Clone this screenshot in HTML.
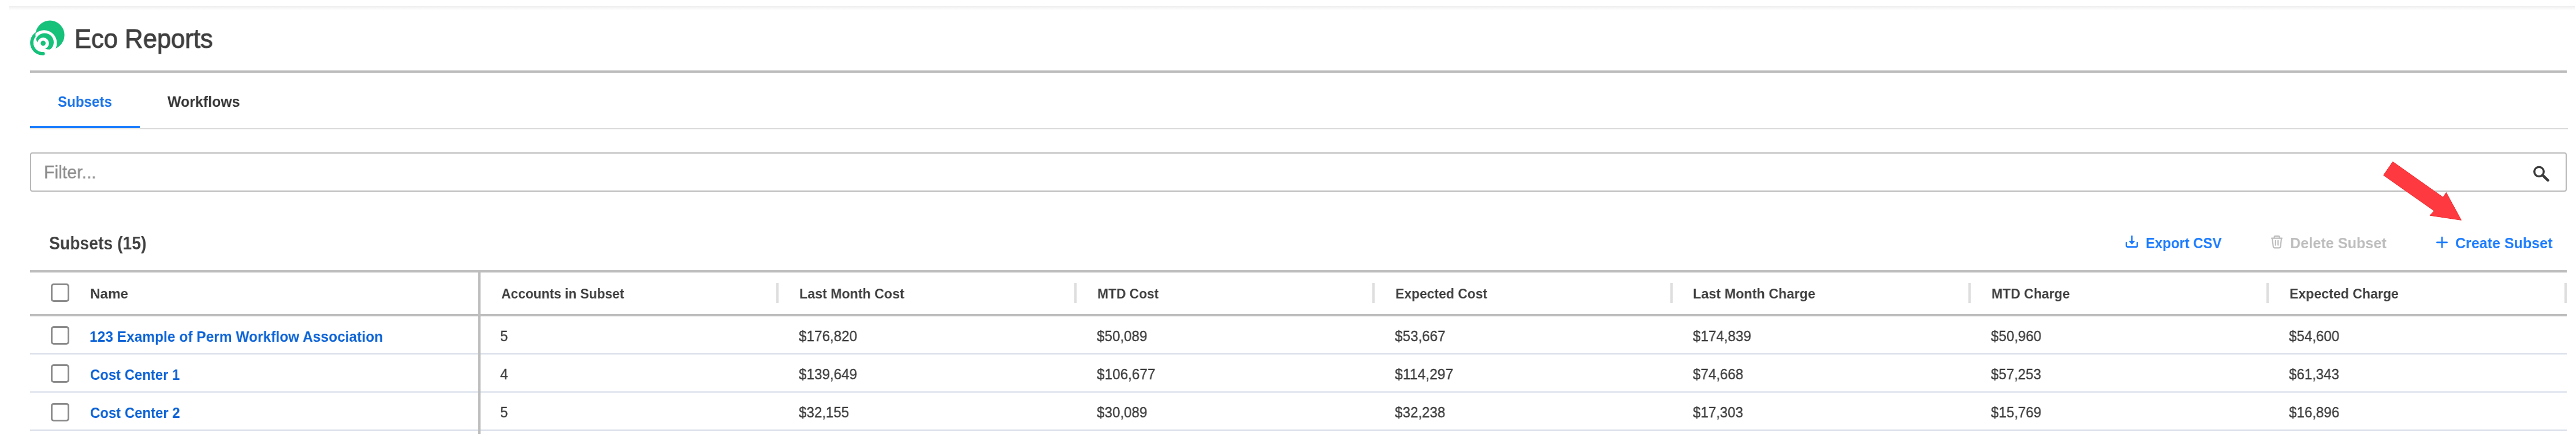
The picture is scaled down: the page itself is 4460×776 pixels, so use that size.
<!DOCTYPE html>
<html><head><meta charset="utf-8"><title>Eco Reports</title>
<style>
html,body{margin:0;padding:0;background:#fff;}
body{width:4460px;height:776px;position:relative;overflow:hidden;font-family:"Liberation Sans",sans-serif;}
.r{position:absolute;}
.t{position:absolute;white-space:nowrap;line-height:1;transform-origin:0 0;display:block;will-change:transform;}
svg{position:absolute;left:0;top:0;}
</style></head>
<body>
<div class="r" style="left:16.00px;top:10.00px;width:4442.00px;height:8.00px;background:#fff;background:linear-gradient(#ebebeb,#f6f6f6 45%,#ffffff)"></div>
<div class="r" style="left:52.00px;top:122.00px;width:4392.00px;height:3.90px;background:#bcbcbc;"></div>
<div class="r" style="left:242.00px;top:222.00px;width:4204.00px;height:1.70px;background:#d9d9d9;"></div>
<div class="r" style="left:52.00px;top:222.00px;width:190.00px;height:1.00px;background:#eee7df;"></div>
<div class="r" style="left:52.00px;top:223.00px;width:190.00px;height:1.00px;background:#dcdcdc;"></div>
<div class="r" style="left:52.00px;top:218.00px;width:190.00px;height:4.00px;background:#1a7dff;"></div>
<div class="r" style="left:52px;top:264px;width:4392px;height:68px;box-sizing:border-box;border:2px solid #b8b8b8;border-radius:4px;background:#fff"></div>
<div class="r" style="left:52.00px;top:468.00px;width:4392.00px;height:3.80px;background:#bdbdbd;"></div>
<div class="r" style="left:52.00px;top:544.00px;width:4392.00px;height:3.80px;background:#bdbdbd;"></div>
<div class="r" style="left:52.00px;top:612.00px;width:4392.00px;height:1.95px;background:#d5dbe7;"></div>
<div class="r" style="left:52.00px;top:678.00px;width:4392.00px;height:1.95px;background:#d5dbe7;"></div>
<div class="r" style="left:52.00px;top:744.00px;width:4392.00px;height:1.95px;background:#d5dbe7;"></div>
<div class="r" style="left:828.20px;top:468.00px;width:3.70px;height:283.70px;background:#bdbdbd;"></div>
<div class="r" style="left:1344.30px;top:490.00px;width:3.50px;height:35.00px;background:#dedede;"></div>
<div class="r" style="left:1860.30px;top:490.00px;width:3.50px;height:35.00px;background:#dedede;"></div>
<div class="r" style="left:2376.30px;top:490.00px;width:3.50px;height:35.00px;background:#dedede;"></div>
<div class="r" style="left:2892.30px;top:490.00px;width:3.50px;height:35.00px;background:#dedede;"></div>
<div class="r" style="left:3408.30px;top:490.00px;width:3.50px;height:35.00px;background:#dedede;"></div>
<div class="r" style="left:3924.30px;top:490.00px;width:3.50px;height:35.00px;background:#dedede;"></div>
<div class="r" style="left:4440.30px;top:490.00px;width:3.50px;height:35.00px;background:#dedede;"></div>
<div class="r" style="left:88px;top:491px;width:32px;height:32px;box-sizing:border-box;border:3px solid #8a8a8a;border-radius:5px;background:#fff"></div>
<div class="r" style="left:88px;top:565px;width:32px;height:32px;box-sizing:border-box;border:3px solid #8a8a8a;border-radius:5px;background:#fff"></div>
<div class="r" style="left:88px;top:631px;width:32px;height:32px;box-sizing:border-box;border:3px solid #8a8a8a;border-radius:5px;background:#fff"></div>
<div class="r" style="left:88px;top:697.5px;width:32px;height:32px;box-sizing:border-box;border:3px solid #8a8a8a;border-radius:5px;background:#fff"></div>
<svg width="4460" height="776" viewBox="0 0 4460 776">
<defs><clipPath id="bc"><circle cx="86.5" cy="60.7" r="25.1"/></clipPath></defs>
<!-- logo -->
<defs><mask id="lm" maskUnits="userSpaceOnUse" x="40" y="30" width="80" height="70">
<rect x="40" y="30" width="80" height="70" fill="#000"/>
<circle cx="86.5" cy="60.7" r="25.1" fill="#fff"/>
<circle cx="76.3" cy="74.5" r="22.2" fill="#000"/>
<circle cx="77.2" cy="73.2" r="15.8" fill="#fff" clip-path="url(#bc)"/>
<circle cx="74.8" cy="75.0" r="10.0" fill="#000"/>
<circle cx="74.7" cy="74.8" r="4.35" fill="#fff"/>
</mask></defs>
<g>
<path d="M 70.62 55.39 L 69.33 55.66 L 68.06 56.03 L 66.82 56.48 L 65.61 57.01 L 64.45 57.63 L 63.33 58.33 L 62.26 59.11 L 61.25 59.95 L 60.30 60.87 L 59.42 61.85 L 58.61 62.89 L 57.87 63.98 L 57.21 65.13 L 56.63 66.31 L 56.14 67.54 L 55.73 68.79 L 55.41 70.07 L 55.18 71.37 L 55.05 72.68 L 55.00 74.00 L 55.05 75.32 L 55.18 76.63 L 55.41 77.93 L 55.73 79.21 L 56.14 80.46 L 56.63 81.69 L 57.21 82.87 L 57.87 84.02 L 58.61 85.11 L 59.42 86.15 L 60.30 87.13 L 61.25 88.05 L 62.26 88.89 L 63.33 89.67 L 64.45 90.37 L 65.61 90.99 L 66.82 91.52 L 68.06 91.97 L 69.33 92.34 L 70.62 92.61 L 71.92 92.80 L 73.24 92.89 L 74.56 92.89 L 74.89 92.87" fill="none" stroke="#16c17a" stroke-width="5.6" stroke-linecap="round" stroke-linejoin="round"/>
<circle cx="86.5" cy="60.7" r="25.1" fill="#fff"/>
<rect x="40" y="30" width="80" height="70" fill="#16c17a" mask="url(#lm)"/>
</g>
<!-- search -->
<g fill="none" stroke="#3a3a3a">
<circle cx="4396" cy="297.4" r="8.15" stroke-width="3.5"/>
<path d="M 4402.2 303.4 L 4411.4 312.4" stroke-width="4.6" stroke-linecap="round"/>
</g>
<!-- red arrow -->
<polygon points="4142.8,280.2 4126.7,303.5 4214.4,365.2 4207.1,373.2 4261.3,381.3 4235.3,333.5 4229.9,341.8" fill="#fe3a40" stroke="#ee2a30" stroke-width="1" stroke-linejoin="miter"/>
<!-- download icon -->
<g fill="none" stroke="#1a7bff" stroke-width="2.6">
<path d="M 3681.7 420.3 V 425.5 Q 3681.7 427.6 3683.8 427.6 H 3698.4 Q 3700.5 427.6 3700.5 425.5 V 420.3" stroke-linecap="round"/>
<path d="M 3691.1 408 V 418"/>
</g>
<polygon points="3685.3,417 3696.9,417 3691.1,423.8" fill="#1a7bff"/>
<!-- trash icon -->
<g fill="none" stroke="#bdbdbd" stroke-width="2.2" stroke-linecap="round" stroke-linejoin="round">
<path d="M 3933 412.6 H 3951"/>
<path d="M 3937.6 412.2 V 410.6 Q 3937.6 408.8 3939.4 408.8 H 3944.8 Q 3946.6 408.8 3946.6 410.6 V 412.2"/>
<path d="M 3934.2 413 L 3935.8 427 Q 3936 429.4 3938.4 429.4 H 3945.8 Q 3948.2 429.4 3948.4 427 L 3950 413"/>
<path d="M 3939.8 416.8 V 424.6 M 3944.2 416.8 V 424.6"/>
</g>
<!-- plus icon -->
<path d="M 4219.4 419.8 H 4236.6 M 4228 411.2 V 428.4" fill="none" stroke="#1a7bff" stroke-width="2.8" stroke-linecap="round"/>
</svg>

<span class="t" style="left:128.79px;top:45.00px;font-size:45.51px;font-weight:normal;color:#3f3f3f;transform:scaleX(0.9573);-webkit-text-stroke:1.00px #3f3f3f">Eco Reports</span>
<span class="t" style="left:100.12px;top:163.00px;font-size:26.01px;font-weight:bold;color:#1a73e8;transform:scaleX(0.9277)">Subsets</span>
<span class="t" style="left:289.70px;top:163.00px;font-size:26.01px;font-weight:bold;color:#333333;transform:scaleX(0.9579)">Workflows</span>
<span class="t" style="left:76.15px;top:283.00px;font-size:30.43px;font-weight:normal;color:#8c8c8c;transform:scaleX(0.9937);-webkit-text-stroke:0.35px #8c8c8c">Filter...</span>
<span class="t" style="left:84.53px;top:407.00px;font-size:30.90px;font-weight:bold;color:#404040;transform:scaleX(0.9169)">Subsets (15)</span>
<span class="t" style="left:3714.77px;top:408.00px;font-size:26.01px;font-weight:bold;color:#1a7bff;transform:scaleX(0.9189)">Export CSV</span>
<span class="t" style="left:3965.19px;top:408.00px;font-size:26.01px;font-weight:bold;color:#bdbdbd;transform:scaleX(0.9704)">Delete Subset</span>
<span class="t" style="left:4251.00px;top:408.00px;font-size:26.01px;font-weight:bold;color:#1a7bff;transform:scaleX(0.9628)">Create Subset</span>
<span class="t" style="left:156.35px;top:497.00px;font-size:24.38px;font-weight:bold;color:#3d3d3d;transform:scaleX(0.9937)">Name</span>
<span class="t" style="left:867.74px;top:497.00px;font-size:24.38px;font-weight:bold;color:#3d3d3d;transform:scaleX(0.9338)">Accounts in Subset</span>
<span class="t" style="left:1383.81px;top:497.00px;font-size:24.38px;font-weight:bold;color:#3d3d3d;transform:scaleX(0.9508)">Last Month Cost</span>
<span class="t" style="left:1899.64px;top:497.00px;font-size:24.38px;font-weight:bold;color:#3d3d3d;transform:scaleX(0.9329)">MTD Cost</span>
<span class="t" style="left:2415.53px;top:497.00px;font-size:24.38px;font-weight:bold;color:#3d3d3d;transform:scaleX(0.9385)">Expected Cost</span>
<span class="t" style="left:2931.40px;top:497.00px;font-size:24.38px;font-weight:bold;color:#3d3d3d;transform:scaleX(0.9603)">Last Month Charge</span>
<span class="t" style="left:3447.72px;top:497.00px;font-size:24.38px;font-weight:bold;color:#3d3d3d;transform:scaleX(0.9450)">MTD Charge</span>
<span class="t" style="left:3964.01px;top:497.00px;font-size:24.38px;font-weight:bold;color:#3d3d3d;transform:scaleX(0.9484)">Expected Charge</span>
<span class="t" style="left:155.33px;top:570.00px;font-size:26.01px;font-weight:bold;color:#0b62d6;transform:scaleX(0.9426)">123 Example of Perm Workflow Association</span>
<span class="t" style="left:865.50px;top:569.00px;font-size:26.01px;font-weight:normal;color:#3d3d3d;transform:scaleX(0.9221);-webkit-text-stroke:0.35px #3d3d3d">5</span>
<span class="t" style="left:1383.02px;top:569.00px;font-size:26.01px;font-weight:normal;color:#3d3d3d;transform:scaleX(0.9311);-webkit-text-stroke:0.35px #3d3d3d">$176,820</span>
<span class="t" style="left:1899.32px;top:569.00px;font-size:26.01px;font-weight:normal;color:#3d3d3d;transform:scaleX(0.9284);-webkit-text-stroke:0.35px #3d3d3d">$50,089</span>
<span class="t" style="left:2415.12px;top:569.00px;font-size:26.01px;font-weight:normal;color:#3d3d3d;transform:scaleX(0.9314);-webkit-text-stroke:0.35px #3d3d3d">$53,667</span>
<span class="t" style="left:2930.92px;top:569.00px;font-size:26.01px;font-weight:normal;color:#3d3d3d;transform:scaleX(0.9307);-webkit-text-stroke:0.35px #3d3d3d">$174,839</span>
<span class="t" style="left:3446.92px;top:569.00px;font-size:26.01px;font-weight:normal;color:#3d3d3d;transform:scaleX(0.9288);-webkit-text-stroke:0.35px #3d3d3d">$50,960</span>
<span class="t" style="left:3962.92px;top:569.00px;font-size:26.01px;font-weight:normal;color:#3d3d3d;transform:scaleX(0.9288);-webkit-text-stroke:0.35px #3d3d3d">$54,600</span>
<span class="t" style="left:155.84px;top:636.00px;font-size:26.01px;font-weight:bold;color:#0b62d6;transform:scaleX(0.9190)">Cost Center 1</span>
<span class="t" style="left:865.98px;top:635.00px;font-size:26.01px;font-weight:normal;color:#3d3d3d;transform:scaleX(0.9299);-webkit-text-stroke:0.35px #3d3d3d">4</span>
<span class="t" style="left:1383.02px;top:635.00px;font-size:26.01px;font-weight:normal;color:#3d3d3d;transform:scaleX(0.9307);-webkit-text-stroke:0.35px #3d3d3d">$139,649</span>
<span class="t" style="left:1899.32px;top:635.00px;font-size:26.01px;font-weight:normal;color:#3d3d3d;transform:scaleX(0.9333);-webkit-text-stroke:0.35px #3d3d3d">$106,677</span>
<span class="t" style="left:2415.12px;top:635.00px;font-size:26.01px;font-weight:normal;color:#3d3d3d;transform:scaleX(0.9504);-webkit-text-stroke:0.35px #3d3d3d">$114,297</span>
<span class="t" style="left:2930.92px;top:635.00px;font-size:26.01px;font-weight:normal;color:#3d3d3d;transform:scaleX(0.9288);-webkit-text-stroke:0.35px #3d3d3d">$74,668</span>
<span class="t" style="left:3446.92px;top:635.00px;font-size:26.01px;font-weight:normal;color:#3d3d3d;transform:scaleX(0.9258);-webkit-text-stroke:0.35px #3d3d3d">$57,253</span>
<span class="t" style="left:3962.92px;top:635.00px;font-size:26.01px;font-weight:normal;color:#3d3d3d;transform:scaleX(0.9258);-webkit-text-stroke:0.35px #3d3d3d">$61,343</span>
<span class="t" style="left:155.84px;top:702.00px;font-size:26.01px;font-weight:bold;color:#0b62d6;transform:scaleX(0.9209)">Cost Center 2</span>
<span class="t" style="left:865.50px;top:701.00px;font-size:26.01px;font-weight:normal;color:#3d3d3d;transform:scaleX(0.9221);-webkit-text-stroke:0.35px #3d3d3d">5</span>
<span class="t" style="left:1383.02px;top:701.00px;font-size:26.01px;font-weight:normal;color:#3d3d3d;transform:scaleX(0.9258);-webkit-text-stroke:0.35px #3d3d3d">$32,155</span>
<span class="t" style="left:1899.32px;top:701.00px;font-size:26.01px;font-weight:normal;color:#3d3d3d;transform:scaleX(0.9284);-webkit-text-stroke:0.35px #3d3d3d">$30,089</span>
<span class="t" style="left:2415.12px;top:701.00px;font-size:26.01px;font-weight:normal;color:#3d3d3d;transform:scaleX(0.9288);-webkit-text-stroke:0.35px #3d3d3d">$32,238</span>
<span class="t" style="left:2930.92px;top:701.00px;font-size:26.01px;font-weight:normal;color:#3d3d3d;transform:scaleX(0.9258);-webkit-text-stroke:0.35px #3d3d3d">$17,303</span>
<span class="t" style="left:3446.92px;top:701.00px;font-size:26.01px;font-weight:normal;color:#3d3d3d;transform:scaleX(0.9284);-webkit-text-stroke:0.35px #3d3d3d">$15,769</span>
<span class="t" style="left:3962.92px;top:701.00px;font-size:26.01px;font-weight:normal;color:#3d3d3d;transform:scaleX(0.9288);-webkit-text-stroke:0.35px #3d3d3d">$16,896</span>
</body></html>
